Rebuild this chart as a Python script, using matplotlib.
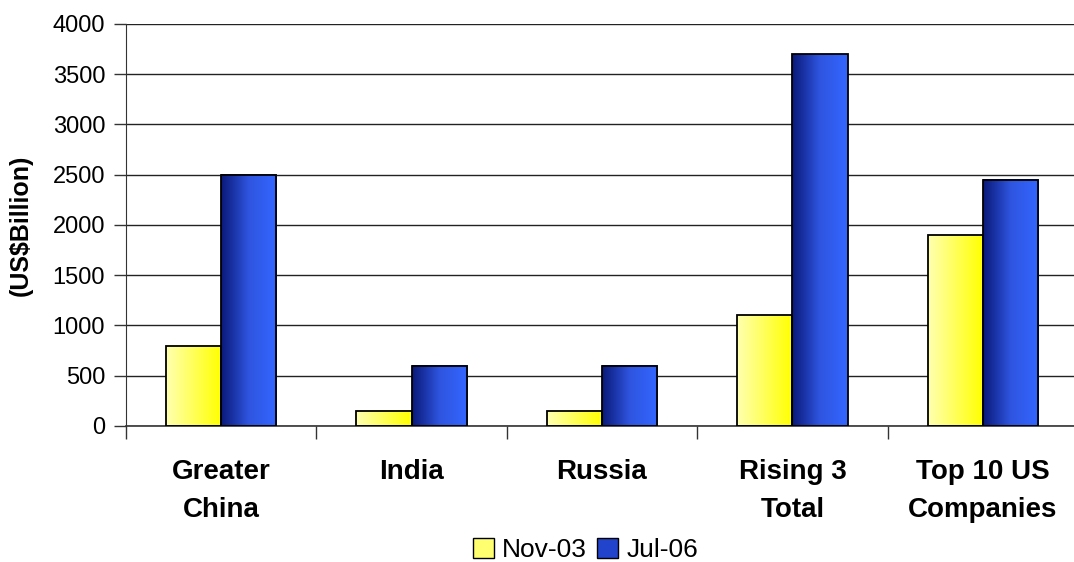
#!/usr/bin/env python3
''' Market capitalisation bar chart, Nov-03 vs Jul-06
'''

import numpy as np
import matplotlib
matplotlib.use('Agg')
from matplotlib import pyplot
from matplotlib.colors import LinearSegmentedColormap
from matplotlib.patches import Patch

#
# data
#

categories = ['Greater\nChina', 'India', 'Russia', 'Rising 3\nTotal', 'Top 10 US\nCompanies']
series_names = ['Nov-03', 'Jul-06']
nov03 = [800, 150, 150, 1100, 1900]
jul06 = [2500, 600, 600, 3700, 2450]

#
# plot
#

pyplot.rcParams['font.family'] = ['Liberation Sans', 'DejaVu Sans']

# gradient maps, light/dark on the left, saturated on the right
cmap_yellow = LinearSegmentedColormap.from_list('yel', ['#ffffb0', '#ffff00'])
cmap_blue = LinearSegmentedColormap.from_list('blu', ['#0a1a7a', '#2f55e0', '#3366ff'])

fig = pyplot.figure(figsize=(10.74, 5.62), dpi=100)
ax = fig.add_axes([0.1173, 0.242, 0.8864, 0.7153])

x = np.arange(len(categories))
width = 0.29
grad = np.linspace(0, 1, 64).reshape(1, -1)

for vals, cmap, off in [(nov03, cmap_yellow, -width / 2), (jul06, cmap_blue, width / 2)]:
    bars = ax.bar(x + off, vals, width, facecolor='none', edgecolor='black',
                  linewidth=1.3, zorder=3)
    for b in bars:
        x0, y0 = b.get_x(), b.get_y()
        ax.imshow(grad, cmap=cmap, aspect='auto', zorder=2,
                  extent=[x0, x0 + b.get_width(), y0, y0 + b.get_height()])

ax.set_xlim(-0.5, len(categories) - 0.5)
ax.set_ylim(0, 4000)
ax.set_yticks(np.arange(0, 4001, 500))
ax.yaxis.grid(True, color='#222222', linewidth=1.0)
ax.set_axisbelow(True)

# category labels centred, tick marks between categories
ax.set_xticks(x)
ax.set_xticklabels(categories, fontsize=20, fontweight='bold', linespacing=1.6)
ax.tick_params(axis='x', which='major', length=0, pad=24)
ax.set_xticks(np.arange(-0.5, len(categories)), minor=True)
ax.tick_params(axis='x', which='minor', length=9, width=1, color='#333333')
ax.tick_params(axis='y', length=9, width=1, labelsize=17, pad=6, color='#333333')

for s in ['top', 'right']:
    ax.spines[s].set_visible(False)
ax.spines['left'].set_color('#333333')
ax.spines['bottom'].set_color('#333333')
ax.spines['bottom'].set_linewidth(1.2)

ax.set_ylabel('(US$Billion)', fontsize=18, fontweight='bold', labelpad=14)

handles = [Patch(facecolor='#ffff70', edgecolor='black', label=series_names[0]),
           Patch(facecolor='#2244cc', edgecolor='black', label=series_names[1])]
fig.legend(handles=handles, loc='center', bbox_to_anchor=(0.545, 0.021), ncol=2,
           frameon=False, fontsize=19, handlelength=0.8, handleheight=0.8,
           handletextpad=0.3, columnspacing=0.4, borderpad=0)

fig.savefig('out.png', dpi=100)
